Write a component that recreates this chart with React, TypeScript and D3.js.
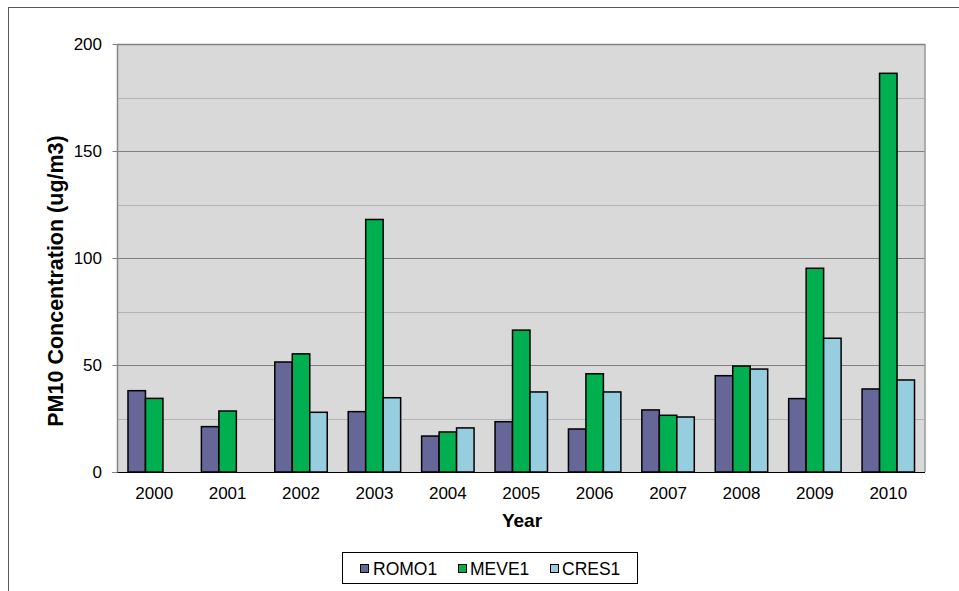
import React from "react";
import * as d3 from "d3";

const years = ["2000", "2001", "2002", "2003", "2004", "2005", "2006", "2007", "2008", "2009", "2010"];
const seriesNames = ["ROMO1", "MEVE1", "CRES1"];
const romo1: (number | null)[] = [38, 21.2, 51.4, 28.2, 16.8, 23.5, 20.1, 29, 45, 34.3, 38.8];
const meve1: (number | null)[] = [34.4, 28.5, 55.2, 118, 18.7, 66.3, 45.9, 26.5, 49.5, 95.2, 186.3];
const cres1: (number | null)[] = [null, null, 27.9, 34.7, 20.6, 37.4, 37.4, 25.7, 48.1, 62.5, 43];
const colors = ["#666699", "#00B050", "#96CDDF"];
const yTicks = [0, 50, 100, 150, 200];
const yMinor = [25, 75, 125, 175];

export default function App() {
  const W = 959, H = 591;
  const left = 117.5, right = 925, top = 44, bottom = 472;
  const x = d3.scaleBand<string>().domain(years).range([left, right]).paddingInner(0).paddingOuter(0);
  const y = d3.scaleLinear().domain([0, 200]).range([bottom, top]);
  const series = [romo1, meve1, cres1];
  const bw = x.bandwidth();
  const barW = bw / (3 + 1.2);
  const gap = (bw - 3 * barW) / 2;
  const font = "'Liberation Sans', Arial, sans-serif";

  const legendItems = [
    { name: seriesNames[0], mx: 360, tx: 373 },
    { name: seriesNames[1], mx: 458, tx: 470 },
    { name: seriesNames[2], mx: 550, tx: 562 },
  ];

  return (
    <svg width={W} height={H} style={{ position: "absolute", left: 0, top: 0 }} fontFamily={font}>
      <rect x={0} y={0} width={W} height={H} fill="#fff" />
      <rect x={8.5} y={7.5} width={W + 10} height={H + 10} fill="none" stroke="#595959" strokeWidth={1} />
      <rect x={left} y={top} width={right - left} height={bottom - top} fill="#D9D9D9" />
      {yMinor.map((t) => (
        <line key={"m" + t} x1={left} x2={right} y1={Math.round(y(t)) + 0.5} y2={Math.round(y(t)) + 0.5} stroke="#B3B3B3" strokeWidth={1} />
      ))}
      {yTicks.filter((t) => t > 0 && t < 200).map((t) => (
        <line key={"g" + t} x1={left} x2={right} y1={Math.round(y(t)) + 0.5} y2={Math.round(y(t)) + 0.5} stroke="#808080" strokeWidth={1} />
      ))}
      <line x1={left} x2={right} y1={top + 0.5} y2={top + 0.5} stroke="#808080" strokeWidth={1.5} />
      <line x1={right} x2={right} y1={top} y2={bottom} stroke="#999" strokeWidth={1.5} />
      {series.map((vals, si) =>
        vals.map((v, i) =>
          v == null ? null : (
            <rect
              key={si + "-" + i}
              x={(x(years[i]) as number) + gap + si * barW}
              y={y(v)}
              width={barW}
              height={bottom - y(v)}
              fill={colors[si]}
              stroke="#000"
              strokeWidth={1.5}
            />
          )
        )
      )}
      <line x1={left} x2={left} y1={top} y2={bottom} stroke="#888" strokeWidth={1.5} />
      <line x1={left - 5} x2={right} y1={bottom + 0.5} y2={bottom + 0.5} stroke="#000" strokeWidth={1} />
      {yTicks.map((t) => (
        <g key={"t" + t}>
          <line x1={left - 5} x2={left} y1={Math.round(y(t)) + 0.5} y2={Math.round(y(t)) + 0.5} stroke="#808080" />
          <text x={102} y={y(t) + 6} textAnchor="end" fontSize={17} fill="#000">{t}</text>
        </g>
      ))}
      {years.map((yr) => (
        <text key={yr} x={(x(yr) as number) + bw / 2} y={499} textAnchor="middle" fontSize={17} fill="#000">{yr}</text>
      ))}
      <text x={522} y={527} textAnchor="middle" fontSize={19} fontWeight="bold" fill="#000">Year</text>
      <text transform={`translate(63,281) rotate(-90)`} textAnchor="middle" fontSize={21.5} fontWeight="bold" fill="#000">
        PM10 Concentration (ug/m3)
      </text>
      <rect x={342.5} y={552.5} width={295} height={31} fill="#fff" stroke="#000" strokeWidth={1} />
      {legendItems.map((it, i) => (
        <g key={it.name}>
          <rect x={it.mx + 0.5} y={564.5} width={8} height={8} fill={colors[i]} stroke="#000" strokeWidth={1} />
          <text x={it.tx} y={575} fontSize={17.5} fill="#000">{it.name}</text>
        </g>
      ))}
    </svg>
  );
}
